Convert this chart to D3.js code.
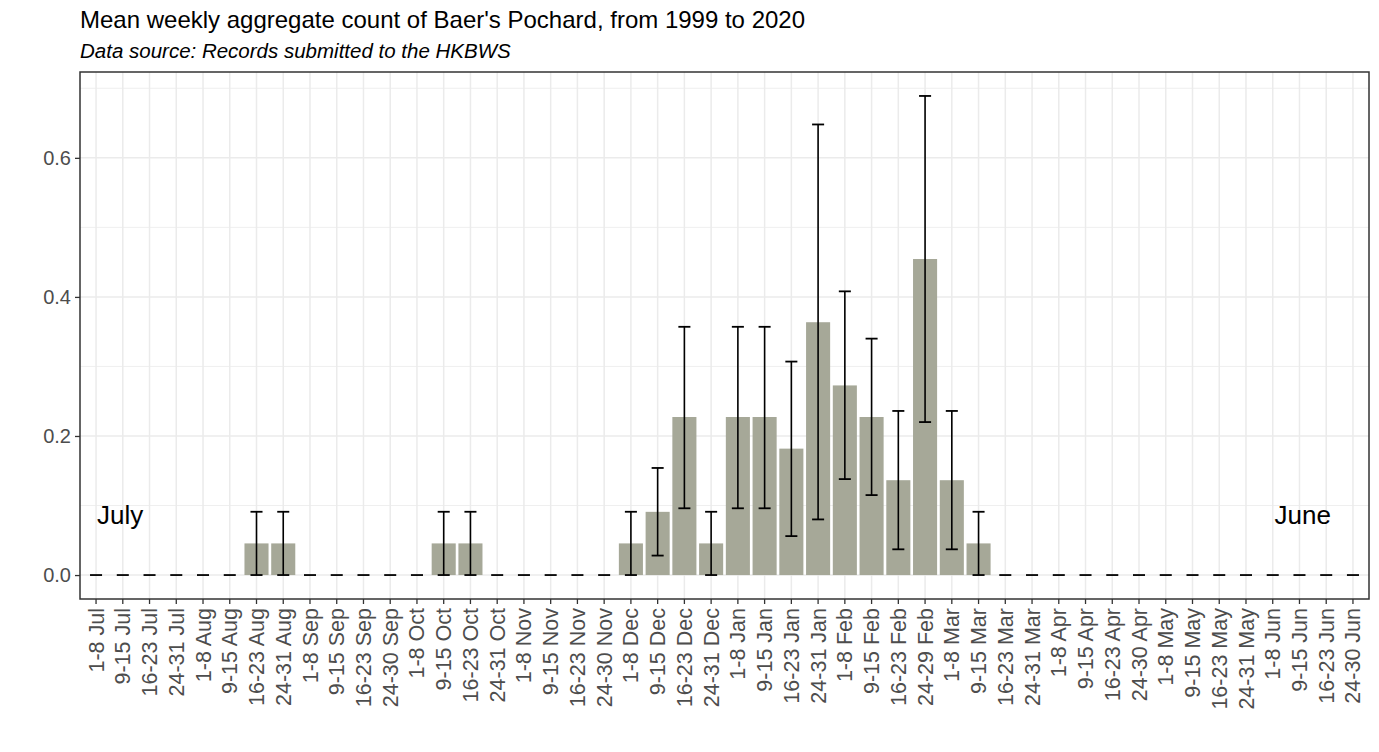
<!DOCTYPE html>
<html>
<head>
<meta charset="utf-8">
<script src="https://cdn.jsdelivr.net/npm/d3@7"></script>
<style>
  body { margin: 0; background: #fff; }
  svg { font-family: "Liberation Sans", Arial, sans-serif; }
</style>
</head>
<body>
<svg id="chart" width="1379" height="752"></svg>
<script>
// week labels, July to June
const weeks = [
  "1-8 Jul", "9-15 Jul", "16-23 Jul", "24-31 Jul",
  "1-8 Aug", "9-15 Aug", "16-23 Aug", "24-31 Aug",
  "1-8 Sep", "9-15 Sep", "16-23 Sep", "24-30 Sep",
  "1-8 Oct", "9-15 Oct", "16-23 Oct", "24-31 Oct",
  "1-8 Nov", "9-15 Nov", "16-23 Nov", "24-30 Nov",
  "1-8 Dec", "9-15 Dec", "16-23 Dec", "24-31 Dec",
  "1-8 Jan", "9-15 Jan", "16-23 Jan", "24-31 Jan",
  "1-8 Feb", "9-15 Feb", "16-23 Feb", "24-29 Feb",
  "1-8 Mar", "9-15 Mar", "16-23 Mar", "24-31 Mar",
  "1-8 Apr", "9-15 Apr", "16-23 Apr", "24-30 Apr",
  "1-8 May", "9-15 May", "16-23 May", "24-31 May",
  "1-8 Jun", "9-15 Jun", "16-23 Jun", "24-30 Jun"
];

const meanCount = [
  0, 0, 0, 0, 0, 0, 0.0455, 0.0455,
  0, 0, 0, 0, 0, 0.0455, 0.0455, 0,
  0, 0, 0, 0, 0.0455, 0.0909, 0.2273, 0.0455,
  0.2273, 0.2273, 0.1818, 0.3636, 0.2727, 0.2273, 0.1364, 0.4545,
  0.1364, 0.0455, 0, 0, 0, 0, 0, 0,
  0, 0, 0, 0, 0, 0, 0, 0
];

const errLow = [
  0, 0, 0, 0, 0, 0, 0, 0,
  0, 0, 0, 0, 0, 0, 0, 0,
  0, 0, 0, 0, 0, 0.028, 0.096, 0,
  0.096, 0.096, 0.056, 0.080, 0.138, 0.115, 0.037, 0.220,
  0.037, 0, 0, 0, 0, 0, 0, 0,
  0, 0, 0, 0, 0, 0, 0, 0
];

const errHigh = [
  0, 0, 0, 0, 0, 0, 0.091, 0.091,
  0, 0, 0, 0, 0, 0.091, 0.091, 0,
  0, 0, 0, 0, 0.091, 0.154, 0.357, 0.091,
  0.357, 0.357, 0.307, 0.648, 0.408, 0.340, 0.236, 0.689,
  0.236, 0.091, 0, 0, 0, 0, 0, 0,
  0, 0, 0, 0, 0, 0, 0, 0
];

const yTicks = [0, 0.2, 0.4, 0.6];
const yMinor = [0.1, 0.3, 0.5, 0.7];

const annotations = [
  { label: "July", week: "9-15 Jul", shift: -0.1, value: 0.087 },
  { label: "June", week: "9-15 Jun", shift: 0.12, value: 0.087 }
];

const data = weeks.map((w, i) => ({
  week: w, mean: meanCount[i], lo: errLow[i], hi: errHigh[i]
}));

const margin = { top: 72, right: 10, bottom: 153, left: 80 };
const width = 1379, height = 752;
const innerW = width - margin.left - margin.right;
const innerH = height - margin.top - margin.bottom;

const svg = d3.select('#chart');

// title
svg.append('text')
  .attr('x', 80).attr('y', 28)
  .style('font-size', '24px')
  .style('fill', '#000')
  .text("Mean weekly aggregate count of Baer's Pochard, from 1999 to 2020");

svg.append('text')
  .attr('x', 80).attr('y', 58)
  .style('font-size', '20.5px')
  .style('font-style', 'italic')
  .style('fill', '#000')
  .text("Data source: Records submitted to the HKBWS");

const g = svg.append('g')
  .attr('transform', `translate(${margin.left},${margin.top})`);

// ggplot-like expansion: 0.6 units each side on discrete axis
const band = innerW / (weeks.length + 0.2);
const x = d3.scaleBand()
  .domain(weeks)
  .range([band * 0.1, innerW - band * 0.1])
  .paddingInner(0);

const yMax = d3.max(errHigh);
const pad = yMax * 0.05;
const y = d3.scaleLinear()
  .domain([-pad, yMax + pad])
  .range([innerH, 0]);

// grid
g.selectAll('line.ygridMinor')
  .data(yMinor.filter(v => y(v) >= 0))
  .enter().append('line')
  .attr('x1', 0).attr('x2', innerW)
  .attr('y1', d => y(d)).attr('y2', d => y(d))
  .style('stroke', '#ebebeb').style('stroke-width', 0.8);

g.selectAll('line.ygrid')
  .data(yTicks)
  .enter().append('line')
  .attr('x1', 0).attr('x2', innerW)
  .attr('y1', d => y(d)).attr('y2', d => y(d))
  .style('stroke', '#ebebeb').style('stroke-width', 1.5);

g.selectAll('line.xgrid')
  .data(weeks)
  .enter().append('line')
  .attr('x1', d => x(d) + x.bandwidth() / 2)
  .attr('x2', d => x(d) + x.bandwidth() / 2)
  .attr('y1', 0).attr('y2', innerH)
  .style('stroke', '#ebebeb').style('stroke-width', 1.5);

// bars
g.selectAll('rect.bar')
  .data(data.filter(d => d.mean > 0))
  .enter().append('rect')
  .attr('x', d => x(d.week) + x.bandwidth() * 0.05)
  .attr('width', x.bandwidth() * 0.9)
  .attr('y', d => y(d.mean))
  .attr('height', d => y(0) - y(d.mean))
  .style('fill', '#a6a898');

// error bars
const capW = x.bandwidth() * 0.45;
const eb = g.selectAll('g.err')
  .data(data)
  .enter().append('g')
  .attr('transform', d => `translate(${x(d.week) + x.bandwidth() / 2},0)`);

eb.filter(d => d.hi > d.lo).append('line')
  .attr('x1', 0).attr('x2', 0)
  .attr('y1', d => y(d.lo)).attr('y2', d => y(d.hi))
  .style('stroke', '#000').style('stroke-width', 1.6);

eb.append('line')
  .attr('x1', -capW / 2).attr('x2', capW / 2)
  .attr('y1', d => y(d.hi)).attr('y2', d => y(d.hi))
  .style('stroke', '#000').style('stroke-width', 1.8);

eb.filter(d => d.hi > d.lo).append('line')
  .attr('x1', -capW / 2).attr('x2', capW / 2)
  .attr('y1', d => y(d.lo)).attr('y2', d => y(d.lo))
  .style('stroke', '#000').style('stroke-width', 1.8);

// month annotations
g.selectAll('text.anno')
  .data(annotations)
  .enter().append('text')
  .attr('x', d => x(d.week) + x.bandwidth() * (0.5 + d.shift))
  .attr('y', d => y(d.value))
  .attr('text-anchor', 'middle')
  .attr('dominant-baseline', 'central')
  .style('font-size', '26px')
  .style('fill', '#000')
  .text(d => d.label);

// panel border
g.append('rect')
  .attr('width', innerW).attr('height', innerH)
  .style('fill', 'none')
  .style('stroke', '#333333').style('stroke-width', 1.5);

// axes
const yAxis = g.append('g')
  .call(d3.axisLeft(y).tickValues(yTicks).tickFormat(d3.format('.1f')).tickSize(5).tickPadding(4));
yAxis.select('.domain').remove();
yAxis.selectAll('line').style('stroke', '#333333').style('stroke-width', 1.3);
yAxis.selectAll('text').style('font-size', '20px').style('fill', '#4d4d4d')
  .style('font-family', '"Liberation Sans", Arial, sans-serif');

const xAxis = g.append('g')
  .attr('transform', `translate(0,${innerH})`)
  .call(d3.axisBottom(x).tickSize(5).tickPadding(4));
xAxis.select('.domain').remove();
xAxis.selectAll('line').style('stroke', '#333333').style('stroke-width', 1.3);
xAxis.selectAll('text')
  .style('font-size', '21.5px').style('fill', '#4d4d4d')
  .style('font-family', '"Liberation Sans", Arial, sans-serif')
  .attr('transform', 'rotate(-90)')
  .attr('x', -9).attr('y', 0).attr('dy', '0.35em')
  .attr('text-anchor', 'end');
</script>
</body>
</html>
